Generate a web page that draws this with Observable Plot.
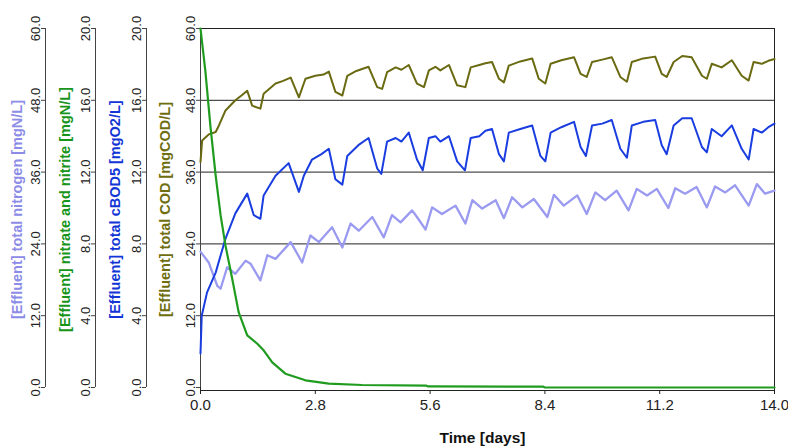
<!DOCTYPE html>
<html><head><meta charset="utf-8">
<script src="https://cdn.jsdelivr.net/npm/d3@7"></script>
<script src="https://cdn.jsdelivr.net/npm/@observablehq/plot@0.6"></script>
<style>
html,body{margin:0;padding:0;background:#fff;}
#chart{width:788px;height:448px;}
</style></head><body><div id="chart"></div>
<script>
// ---- data ----
const xTicks = [0, 2.8, 5.6, 8.4, 11.2, 14.0];
const tnTicks = [0, 12, 24, 36, 48, 60];
const noxTicks = [0, 4, 8, 12, 16, 20];
const bodTicks = [0, 4, 8, 12, 16, 20];
const codTicks = [0, 12, 24, 36, 48, 60];
const gridValues = [12, 24, 36, 48];

const tnTitle = "[Effluent] total nitrogen [mgN/L]";
const noxTitle = "[Effluent] nitrate and nitrite [mgN/L]";
const bodTitle = "[Effluent] total cBOD5 [mgO2/L]";
const codTitle = "[Effluent] total COD [mgCOD/L]";
const xTitle = "Time [days]";

// total nitrogen (mgN/L, axis 0-60)
const tnDays = [0, 0.2, 0.41, 0.49, 0.65, 0.85, 1.10, 1.22, 1.46, 1.63, 1.83, 2.2, 2.48, 2.68, 2.89, 3.21, 3.46, 3.66, 3.86, 4.19, 4.47, 4.67, 4.88, 5.16, 5.28, 5.49, 5.65, 5.89, 6.22, 6.46, 6.63, 6.87, 7.2, 7.40, 7.60, 7.85, 8.13, 8.46, 8.62, 8.86, 9.19, 9.42, 9.63, 9.87, 10.15, 10.44, 10.64, 10.89, 11.13, 11.41, 11.58, 11.82, 12.10, 12.35, 12.55, 12.80, 13.04, 13.37, 13.57, 13.77, 14.0];
const tnVals = [22.7, 20.9, 17.0, 16.5, 20.1, 19.0, 21.2, 20.7, 17.9, 22.1, 21.5, 24.3, 20.9, 25.4, 24.3, 26.8, 23.4, 27.4, 26.2, 28.5, 25.1, 28.8, 27.6, 29.6, 28.5, 26.4, 30.1, 29.0, 30.4, 27.4, 31.3, 29.9, 31.3, 28.3, 31.8, 30.1, 31.5, 28.5, 32.2, 30.4, 32.1, 29.0, 32.6, 31.3, 32.9, 29.6, 33.2, 32.1, 33.2, 30.0, 33.3, 32.4, 33.5, 30.1, 33.6, 32.6, 33.8, 30.4, 34.0, 32.4, 32.9];

// nitrate and nitrite (mgN/L, axis 0-20)
const noxDays = [0, 0.12, 0.24, 0.37, 0.49, 0.61, 0.77, 0.93, 1.14, 1.38, 1.54, 1.75, 2.07, 2.56, 3.13, 3.94, 5.5, 5.55, 8.35, 8.4, 14.0];
const noxVals = [20.0, 17.6, 14.6, 11.8, 9.6, 7.9, 6.1, 4.2, 2.9, 2.45, 2.07, 1.4, 0.77, 0.4, 0.22, 0.14, 0.11, 0.06, 0.05, 0.0, 0.0];

// total cBOD5 (mgO2/L, axis 0-20)
const bodDays = [0, 0.03, 0.16, 0.37, 0.61, 0.85, 1.14, 1.30, 1.46, 1.54, 1.83, 2.15, 2.40, 2.52, 2.72, 2.95, 3.13, 3.29, 3.46, 3.58, 3.85, 4.10, 4.31, 4.41, 4.55, 4.76, 4.9, 5.08, 5.28, 5.42, 5.57, 5.73, 5.85, 6.06, 6.26, 6.45, 6.59, 6.8, 6.95, 7.11, 7.28, 7.40, 7.52, 7.8, 8.09, 8.29, 8.41, 8.54, 8.8, 9.11, 9.27, 9.40, 9.55, 9.8, 10.03, 10.24, 10.40, 10.52, 10.8, 11.09, 11.25, 11.37, 11.54, 11.75, 11.98, 12.23, 12.35, 12.47, 12.71, 12.96, 13.20, 13.37, 13.49, 13.69, 13.85, 14.0];
const bodVals = [1.9, 4.0, 5.3, 6.4, 8.3, 9.7, 10.8, 9.6, 9.4, 10.7, 11.8, 12.5, 10.9, 11.8, 12.7, 13.0, 13.3, 11.6, 11.3, 12.9, 13.5, 13.9, 12.2, 11.9, 13.7, 13.9, 13.7, 14.2, 12.7, 12.1, 13.9, 14.0, 13.7, 14.0, 12.6, 12.1, 13.9, 14.0, 14.3, 14.4, 13.0, 12.6, 14.2, 14.4, 14.6, 12.9, 12.6, 14.2, 14.5, 14.8, 13.4, 12.9, 14.6, 14.7, 14.9, 13.3, 12.8, 14.6, 14.8, 14.9, 13.5, 13.0, 14.6, 15.0, 15.0, 13.4, 13.1, 14.4, 14.0, 14.6, 13.3, 12.7, 14.4, 14.2, 14.5, 14.7];

// total COD (mgCOD/L, axis 0-60)
const codDays = [0, 0.04, 0.2, 0.37, 0.45, 0.61, 0.85, 1.0, 1.14, 1.26, 1.46, 1.54, 1.83, 2.0, 2.2, 2.40, 2.56, 2.80, 3.0, 3.13, 3.29, 3.46, 3.58, 3.8, 4.1, 4.31, 4.43, 4.55, 4.76, 4.9, 5.08, 5.28, 5.45, 5.57, 5.73, 5.85, 6.06, 6.26, 6.46, 6.59, 6.8, 6.95, 7.11, 7.28, 7.40, 7.52, 7.8, 8.09, 8.25, 8.41, 8.54, 8.8, 9.11, 9.27, 9.42, 9.55, 9.8, 10.03, 10.24, 10.40, 10.52, 10.8, 11.09, 11.25, 11.37, 11.54, 11.75, 11.98, 12.23, 12.35, 12.47, 12.71, 12.96, 13.2, 13.37, 13.49, 13.69, 13.85, 14.0];
const codVals = [37.7, 41.3, 42.3, 42.7, 43.8, 46.3, 48.0, 48.8, 49.6, 47.1, 46.6, 49.1, 50.8, 51.2, 51.8, 48.5, 51.6, 52.1, 52.3, 52.8, 49.4, 48.8, 52.1, 52.9, 53.6, 50.2, 49.9, 52.7, 53.5, 53.1, 53.9, 50.8, 50.2, 53.0, 53.6, 53.0, 53.9, 50.5, 50.2, 53.5, 53.9, 54.2, 54.4, 51.6, 51.0, 53.8, 54.5, 55.0, 51.6, 50.8, 54.1, 54.7, 55.2, 52.4, 51.9, 54.4, 54.8, 55.2, 51.9, 51.1, 54.4, 55.0, 55.3, 52.4, 51.9, 54.4, 55.4, 55.2, 52.1, 51.6, 54.1, 53.5, 54.7, 52.1, 51.3, 54.4, 54.1, 54.6, 54.9];

// ---- styles ----
const tnColor = "#9a9af0", noxColor = "#1f9c1f", bodColor = "#1a3de0", codColor = "#6a6a12";
const tnTitleColor = "#8c8ce8", noxTitleColor = "#17941a", bodTitleColor = "#1236d6", codTitleColor = "#6e6e10";

const rows = (days, vals) => days.map((t, i) => ({t, v: vals[i]}));
const tnRows = rows(tnDays, tnVals);
const noxRows = rows(noxDays, noxVals);
const bodRows = rows(bodDays, bodVals);
const codRows = rows(codDays, codVals);

// each left axis: values in its own unit mapped onto the shared 0-60 y scale by factor
function leftAxis(ticks, factor, offset) {
  return [
    Plot.ruleX([0], {y1: 0, y2: 60, dx: offset, stroke: "#444", strokeWidth: 1}),
    Plot.axisY({
      ticks: ticks.map(t => t * factor),
      tickFormat: d => (d / factor).toFixed(1),
      anchor: "left", dx: offset, tickSize: 4, tickPadding: 2, tickRotate: -90,
      fontSize: 13, label: null, stroke: "#444", fill: "#222"
    })
  ];
}
function axisTitle(txt, offset, color) {
  return Plot.text([txt], {text: d => d, frameAnchor: "left", dx: offset, rotate: -90,
    textAnchor: "middle", lineAnchor: "middle", fill: color, fontWeight: "bold", fontSize: 14.5});
}

const chart = Plot.plot({
  width: 788, height: 448,
  marginLeft: 200, marginRight: 14, marginTop: 28, marginBottom: 58,
  style: {fontFamily: "'Liberation Sans', Arial, sans-serif", background: "#fff", color: "#222", overflow: "visible"},
  x: {domain: [0, 14], axis: null},
  y: {domain: [0, 60], insetBottom: 3, axis: null},
  marks: [
    Plot.ruleY(gridValues, {stroke: "#222", strokeWidth: 1}),
    Plot.frame({stroke: "#222", strokeWidth: 1}),
    ...leftAxis(tnTicks, 1, -155),
    ...leftAxis(noxTicks, 3, -105),
    ...leftAxis(bodTicks, 3, -54),
    ...leftAxis(codTicks, 1, 0),
    axisTitle(tnTitle, -183, tnTitleColor),
    axisTitle(noxTitle, -135, noxTitleColor),
    axisTitle(bodTitle, -85, bodTitleColor),
    axisTitle(codTitle, -35, codTitleColor),
    Plot.axisX({ticks: xTicks, tickFormat: d => d.toFixed(1), tickSize: 4, tickPadding: 5,
      fontSize: 15, label: null, stroke: "#222", fill: "#222"}),
    Plot.text([xTitle], {text: d => d, frameAnchor: "bottom", dy: 48, dx: -5,
      lineAnchor: "middle", fontWeight: "bold", fontSize: 15.5, fill: "#111"}),
    Plot.line(tnRows, {x: "t", y: "v", stroke: tnColor, strokeWidth: 2.3}),
    Plot.line(codRows, {x: "t", y: "v", stroke: codColor, strokeWidth: 2}),
    Plot.line(bodRows, {x: "t", y: d => d.v * 3, stroke: bodColor, strokeWidth: 2}),
    Plot.line(noxRows, {x: "t", y: d => d.v * 3, stroke: noxColor, strokeWidth: 2.2})
  ]
});
document.getElementById("chart").appendChild(chart);
</script>
</body></html>
